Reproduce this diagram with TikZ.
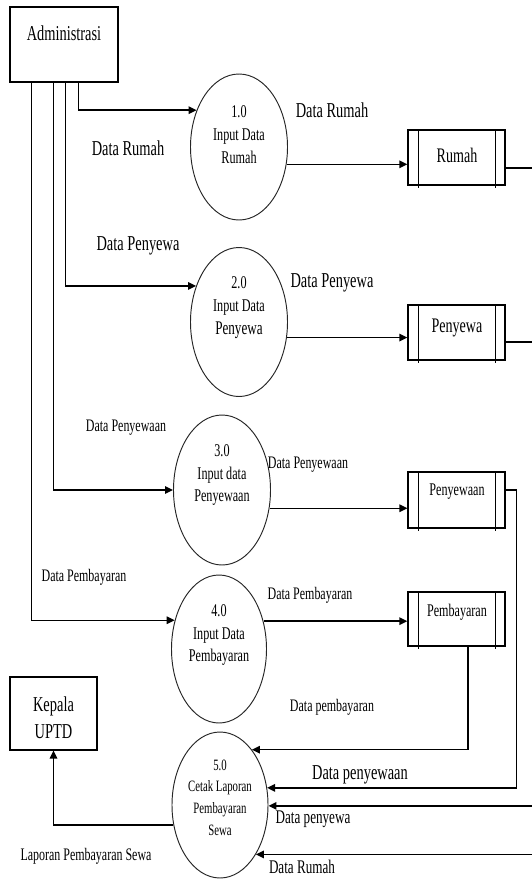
\documentclass[tikz,border=0pt]{standalone}
\usepackage{fontspec}
\setmainfont{Liberation Serif}[FakeStretch=0.68]
\usetikzlibrary{arrows.meta,shapes.geometric}
\begin{document}
\begin{tikzpicture}[x=1pt,y=-1pt,
  entity/.style={draw,line width=1.2pt,rectangle,inner sep=0pt},
  proc/.style={draw=black!85,line width=0.95pt,ellipse,inner sep=0pt,minimum width=97pt,minimum height=148pt},
  store/.style={draw,line width=1.2pt,rectangle,inner sep=0pt,minimum width=97pt,minimum height=55pt},
  flow/.style={line width=1.45pt,-{Triangle[length=8pt,width=7.5pt]}},
  big/.style={inner sep=0pt,font=\fontsize{21.2}{27}\selectfont},
  mid/.style={inner sep=0pt,font=\fontsize{19.3}{24}\selectfont},
  small/.style={inner sep=0pt,font=\fontsize{17.6}{22}\selectfont},
  ptext/.style={inner sep=0pt,align=center,font=\fontsize{17.9}{22.8}\selectfont},
]
\useasboundingbox (0,0) rectangle (532,879);
\clip (0,0) rectangle (532,879);

% external entities
\node[entity,minimum width=108pt,minimum height=75pt] (adm) at (64,44.5) {};
\node[big] (admtxt) at (64,33) {Administrasi};
\node[entity,minimum width=87pt,minimum height=73pt] (kepala) at (53.5,713.5) {};
\node[big,align=center] (kepalatxt) at (53.5,718) {Kepala\\UPTD};

% processes
\node[proc,minimum height=146pt] (p1) at (239,147) {};
\node[ptext] (p1txt) at (239,134.5) {1.0\\Input Data\\Rumah};
\node[proc,minimum height=149pt] (p2) at (239,322) {};
\node[ptext] (p2txt) at (239,307.5) {2.0\\Input Data\\{\fontsize{19.3}{22.8}\selectfont Penyewa}};
\node[proc,minimum height=150pt] (p3) at (222,490) {};
\node[ptext] (p3txt) at (222,475) {3.0\\Input data\\Penyewaan};
\node[proc,minimum width=95pt,minimum height=148pt] (p4) at (219,649) {};
\node[ptext] (p4txt) at (219,635) {4.0\\Input Data\\Pembayaran};
\node[proc,minimum width=96pt,minimum height=146pt] (p5) at (220,805) {};
\node[ptext,font=\fontsize{15.8}{21.7}\selectfont] (p5txt) at (220,797.5) {5.0\\Cetak Laporan\\Pembayaran\\Sewa};

% data stores
\node[store] (rumah) at (456.5,157.5) {};
\node[big,font=\fontsize{20.7}{24}\selectfont] (rumahtxt) at (457,155) {Rumah};
\node[store] (penyewa) at (456.5,332.5) {};
\node[big,font=\fontsize{20.7}{24}\selectfont] (penyewatxt) at (457,328) {Penyewa};
\node[store,minimum height=56pt] (penyewaan) at (456.5,500) {};
\node[small,font=\fontsize{17.8}{22}\selectfont] (penyewaantxt) at (457,492) {Penyewaan};
\node[store,minimum height=54pt] (pembayaran) at (456.5,619) {};
\node[small,font=\fontsize{17.8}{22}\selectfont] (pembayarantxt) at (457,612) {Pembayaran};
\foreach \s in {rumah,penyewa,penyewaan,pembayaran}{
  \draw[line width=1.1pt] ([xshift=11pt]\s.north west) -- ([xshift=11pt,yshift=-2pt]\s.south west);
  \draw[line width=1.1pt] ([xshift=-10pt]\s.north east) -- ([xshift=-10pt,yshift=-2pt]\s.south east);
}

% flows from Administrasi
\draw[flow] ([xshift=69pt]adm.south west) |- (p1.139);
\draw[flow] ([xshift=56pt]adm.south west) |- (p2.140);
\draw[flow] ([xshift=44pt]adm.south west) |- (p3.west);
\draw[flow] ([xshift=22pt]adm.south west) |- (p4.147.5);

% flows into the stores
\draw[flow] (p1.-20) -- (p1.-20 -| rumah.west);
\draw[flow] (p2.-18.6) -- (p2.-18.6 -| penyewa.west);
\draw[flow] (p3.-21) -- (p3.-21 -| penyewaan.west);
\draw[flow] (p4.32.5) -- (p4.32.5 -| pembayaran.west);

% flows into the report process
\draw[flow] ([xshift=11.5pt]pembayaran.south) |- (p5.60);
\draw[flow] ([yshift=10pt]penyewaan.east) -- ++(11,0) |- (p5.20);
\draw[flow] ([yshift=-9.5pt]penyewa.east) -- ++(33,0) |- (p5.-1.2);
\draw[flow] ([yshift=-10.5pt]rumah.east) -- ++(40,0) |- (p5.-54);

% report to Kepala UPTD
\draw[flow] (p5.203.4) -| (kepala.south);

% flow labels
\node[big] (l1a) at (128,148) {Data Rumah};
\node[big] (l1b) at (332,110) {Data Rumah};
\node[big] (l2a) at (138,246) {Data Penyewa};
\node[big] (l2b) at (332,283) {Data Penyewa};
\node[small] (l3a) at (126,428) {Data Penyewaan};
\node[small] (l3b) at (308,465) {Data Penyewaan};
\node[small] (l4a) at (84,577) {Data Pembayaran};
\node[small] (l4b) at (310,595) {Data Pembayaran};
\node[small] (l5a) at (332,707) {Data pembayaran};
\node[big] (l5b) at (360,775) {Data penyewaan};
\node[mid] (l5c) at (313,819) {Data penyewa};
\node[mid] (l5d) at (302,867) {Data Rumah};
\node[small] (l6) at (86,856) {Laporan Pembayaran Sewa};
\end{tikzpicture}
\end{document}
